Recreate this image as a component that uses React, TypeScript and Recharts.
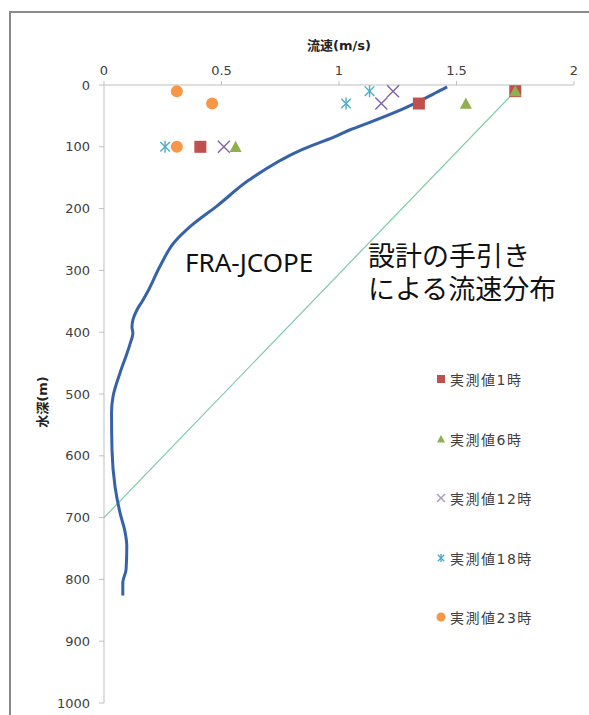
import {
  ScatterChart,
  Scatter,
  XAxis,
  YAxis,
  Legend,
  Label,
} from 'recharts'

// FRA-JCOPE model profile (speed m/s, depth m)
const curveSpeed = [
  1.46, 1.41, 1.27, 1.12, 1.05, 0.98, 0.84, 0.62, 0.48, 0.37, 0.3, 0.24, 0.185, 0.166, 0.14,
  0.123, 0.119, 0.123, 0.11, 0.098, 0.068, 0.038, 0.032, 0.034, 0.047, 0.068, 0.09, 0.097,
  0.094, 0.08, 0.08,
]
const curveDepth = [
  3, 13, 39, 62, 72, 84, 105, 153, 196, 228, 254, 292, 335, 348, 364,
  380, 392, 401, 420, 434, 466, 505, 530, 590, 650, 692, 724, 746,
  784, 805, 826,
]

// design guideline line
const designSpeed = [1.75, 0]
const designDepth = [10, 700]

// measured values
const obsDepth = [10, 30, 100]
const obs1 = [1.75, 1.34, 0.41]
const obs6 = [1.75, 1.54, 0.56]
const obs12 = [1.23, 1.18, 0.51]
const obs18 = [1.13, 1.03, 0.26]
const obs23 = [0.31, 0.46, 0.31]

const xTicks = [0, 0.5, 1, 1.5, 2]
const yTicks = [0, 100, 200, 300, 400, 500, 600, 700, 800, 900, 1000]

const toPoints = (xs: number[], ys: number[]) => xs.map((x, i) => ({ x, depth: ys[i] }))

type Kind = 'square' | 'triangle' | 'x' | 'asterisk' | 'circle'

const SERIES: { name: string; values: number[]; color: string; kind: Kind }[] = [
  { name: '実測値1時', values: obs1, color: '#c0504d', kind: 'square' },
  { name: '実測値6時', values: obs6, color: '#8fb04e', kind: 'triangle' },
  { name: '実測値12時', values: obs12, color: '#8064a2', kind: 'x' },
  { name: '実測値18時', values: obs18, color: '#4bacc6', kind: 'asterisk' },
  { name: '実測値23時', values: obs23, color: '#f79646', kind: 'circle' },
]

const FONT = "'DejaVu Sans', 'Noto Sans CJK JP', sans-serif"

function marker(kind: Kind, cx: number, cy: number, s: number, color: string) {
  const h = s / 2
  switch (kind) {
    case 'square':
      return <rect x={cx - h} y={cy - h} width={s} height={s} fill={color} />
    case 'triangle':
      return (
        <polygon
          points={`${cx},${cy - h} ${cx + h},${cy + h * 0.85} ${cx - h},${cy + h * 0.85}`}
          fill={color}
        />
      )
    case 'x':
      return (
        <g stroke={color} strokeWidth={1.4}>
          <line x1={cx - h} y1={cy - h} x2={cx + h} y2={cy + h} />
          <line x1={cx - h} y1={cy + h} x2={cx + h} y2={cy - h} />
        </g>
      )
    case 'asterisk':
      return (
        <g stroke={color} strokeWidth={1.4}>
          <line x1={cx - h * 0.8} y1={cy - h * 0.8} x2={cx + h * 0.8} y2={cy + h * 0.8} />
          <line x1={cx - h * 0.8} y1={cy + h * 0.8} x2={cx + h * 0.8} y2={cy - h * 0.8} />
          <line x1={cx} y1={cy - h} x2={cx} y2={cy + h} />
        </g>
      )
    default:
      return <circle cx={cx} cy={cy} r={h} fill={color} />
  }
}

const renderLegend = () => (
  <div style={{ fontFamily: FONT, fontSize: 14, color: '#404040' }}>
    {SERIES.map((s) => (
      <div
        key={s.name}
        style={{ display: 'flex', alignItems: 'center', height: 22, marginBottom: 37.5, letterSpacing: 1.5 }}
      >
        <svg width={12} height={12} style={{ marginRight: 3 }}>
          {marker(s.kind, 6, 6, s.kind === 'circle' ? 9 : 8, s.kind === 'x' ? '#a99bc0' : s.color)}
        </svg>
        <span>{s.name}</span>
      </div>
    ))}
  </div>
)

export default function App() {
  return (
    <div
      style={{
        position: 'fixed',
        left: 0,
        top: 0,
        width: 589,
        height: 715,
        overflow: 'hidden',
        background: '#fff',
      }}
    >
      <div
        style={{
          position: 'absolute',
          left: 9,
          top: 11,
          width: 700,
          height: 800,
          border: '2px solid #8a8a8a',
        }}
      />
      <div style={{ position: 'absolute', left: 0, top: 0 }}>
        <ScatterChart width={589} height={715} margin={{ top: 55, right: 15, left: 44, bottom: 12 }}>
          <XAxis
            type="number"
            dataKey="x"
            orientation="top"
            domain={[0, 2]}
            ticks={xTicks}
            stroke="#bfbfbf"
            tickSize={4}
            tickMargin={6}
            height={30}
            tick={{ fontSize: 13, fill: '#404040', fontFamily: FONT }}
          >
            <Label
              content={({ viewBox }: any) => (
                <text
                  x={viewBox.x + viewBox.width / 2}
                  y={45}
                  textAnchor="middle"
                  dominantBaseline="central"
                  fontSize={13}
                  fontWeight="bold"
                  fill="#222"
                  fontFamily={FONT}
                >
                  流速(m/s)
                </text>
              )}
            />
          </XAxis>
          <YAxis
            type="number"
            dataKey="depth"
            reversed
            domain={[0, 1000]}
            ticks={yTicks}
            stroke="#bfbfbf"
            tickSize={5}
            tickMargin={9}
            width={60}
            tick={{ fontSize: 13, fill: '#404040', fontFamily: FONT }}
          >
            <Label
              content={({ viewBox }: any) => (
                <text
                  x={42}
                  y={viewBox.y + viewBox.height / 2 + 8}
                  transform={`rotate(-90 42 ${viewBox.y + viewBox.height / 2 + 8})`}
                  textAnchor="middle"
                  dominantBaseline="central"
                  fontSize={13}
                  fontWeight="bold"
                  fill="#222"
                  fontFamily={FONT}
                >
                  水深(m)
                </text>
              )}
            />
          </YAxis>
          <Legend
            layout="vertical"
            align="center"
            verticalAlign="middle"
            wrapperStyle={{ left: 435, top: 368, width: 150 }}
            content={renderLegend}
          />
          <Scatter
            name="設計の手引き"
            data={toPoints(designSpeed, designDepth)}
            fill="#7ccaa8"
            line={{ stroke: '#7ccaa8', strokeWidth: 1.2 }}
            shape={() => <g />}
            legendType="none"
            isAnimationActive={false}
          />
          <Scatter
            name="FRA-JCOPE"
            data={toPoints(curveSpeed, curveDepth)}
            fill="#3562a8"
            line={{ stroke: '#3562a8', strokeWidth: 3 }}
            lineJointType="monotoneY"
            shape={() => <g />}
            legendType="none"
            isAnimationActive={false}
          />
          {SERIES.map((s) => (
            <Scatter
              key={s.name}
              name={s.name}
              data={toPoints(s.values, obsDepth)}
              fill={s.color}
              shape={(p: any) => marker(s.kind, p.cx, p.cy, 12, s.color)}
              isAnimationActive={false}
            />
          ))}
        </ScatterChart>
      </div>
      <div
        style={{
          position: 'absolute',
          left: 185,
          top: 246,
          fontFamily: "'Noto Sans', sans-serif",
          fontSize: 26,
          lineHeight: '32px',
          color: '#111',
        }}
      >
        FRA-JCOPE
      </div>
      <div
        style={{
          position: 'absolute',
          left: 368,
          top: 238,
          fontFamily: "'Noto Sans CJK JP', sans-serif",
          fontSize: 27,
          lineHeight: '33px',
          color: '#111',
          whiteSpace: 'pre-line',
        }}
      >
        {'設計の手引き\nによる流速分布'}
      </div>
    </div>
  )
}
